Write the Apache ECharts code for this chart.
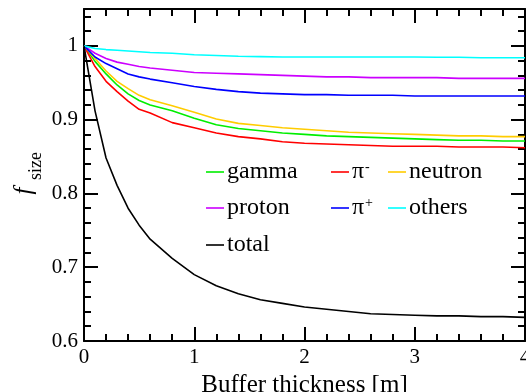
<!DOCTYPE html>
<html>
<head>
<meta charset="utf-8">
<script src="https://cdn.jsdelivr.net/npm/echarts@6/dist/echarts.min.js"></script>
<style>
  html, body { margin: 0; padding: 0; background: #fff; }
  #chart { width: 526px; height: 392px; }
</style>
</head>
<body>
<div id="chart"></div>
<script>
// Buffer thickness samples [m]
const thickness = [0, 0.1, 0.2, 0.3, 0.4, 0.5, 0.6, 0.8, 1.0, 1.2, 1.4, 1.6, 1.8, 2.0, 2.2, 2.4, 2.6, 2.8, 3.0, 3.2, 3.4, 3.6, 3.8, 4.0];

// f_size for each particle type
const gamma   = [1.0, 0.979, 0.962, 0.947, 0.935, 0.926, 0.920, 0.912, 0.902, 0.893, 0.888, 0.885, 0.882, 0.880, 0.878, 0.877, 0.876, 0.875, 0.874, 0.873, 0.872, 0.872, 0.871, 0.871];
const piMinus = [1.0, 0.972, 0.952, 0.938, 0.925, 0.914, 0.909, 0.896, 0.889, 0.882, 0.877, 0.874, 0.870, 0.868, 0.867, 0.866, 0.865, 0.864, 0.864, 0.864, 0.863, 0.863, 0.863, 0.862];
const neutron = [1.0, 0.983, 0.966, 0.952, 0.942, 0.933, 0.927, 0.919, 0.910, 0.901, 0.895, 0.892, 0.889, 0.887, 0.885, 0.883, 0.882, 0.881, 0.880, 0.879, 0.878, 0.878, 0.877, 0.877];
const proton  = [1.0, 0.990, 0.983, 0.978, 0.975, 0.972, 0.970, 0.967, 0.964, 0.963, 0.962, 0.961, 0.960, 0.959, 0.958, 0.958, 0.957, 0.957, 0.957, 0.957, 0.956, 0.956, 0.956, 0.956];
const piPlus  = [1.0, 0.985, 0.976, 0.969, 0.962, 0.958, 0.955, 0.950, 0.945, 0.941, 0.938, 0.936, 0.935, 0.934, 0.934, 0.933, 0.933, 0.933, 0.932, 0.932, 0.932, 0.932, 0.932, 0.932];
const others  = [1.0, 0.9965, 0.995, 0.994, 0.993, 0.992, 0.991, 0.990, 0.988, 0.987, 0.986, 0.9855, 0.985, 0.985, 0.985, 0.985, 0.985, 0.985, 0.985, 0.9845, 0.9845, 0.984, 0.984, 0.984];
const total   = [1.0, 0.912, 0.848, 0.811, 0.780, 0.757, 0.738, 0.712, 0.690, 0.675, 0.664, 0.656, 0.651, 0.646, 0.643, 0.640, 0.637, 0.636, 0.635, 0.634, 0.634, 0.633, 0.633, 0.632];

const xTicks = [0, 1, 2, 3, 4];
const yTicks = [0.6, 0.7, 0.8, 0.9, 1];

const FONT = '"Liberation Serif", "DejaVu Serif", serif';

const seriesDefs = [
  { name: 'gamma',   data: gamma,   color: '#00ee00' },
  { name: 'pim',     data: piMinus, color: '#ff0000' },
  { name: 'neutron', data: neutron, color: '#ffcc00' },
  { name: 'proton',  data: proton,  color: '#cc00ff' },
  { name: 'pip',     data: piPlus,  color: '#0000ff' },
  { name: 'others',  data: others,  color: '#00ffff' },
  { name: 'total',   data: total,   color: '#000000' }
];

const legendText = {
  gamma: 'gamma',
  pim: '{p|π}{s|-}',
  neutron: 'neutron',
  proton: 'proton',
  pip: '{p|π}{s|+}',
  others: 'others',
  total: 'total'
};

// legend layout: one entry per legend box [name, left, centre y]
const legendPos = [
  ['gamma', 206, 174], ['pim', 331, 174], ['neutron', 388, 174],
  ['proton', 206, 210], ['pip', 331, 210], ['others', 388, 210],
  ['total', 206, 247]
];

const chart = echarts.init(document.getElementById('chart'), null, { renderer: 'canvas' });

const tickLabelStyle = { color: '#000', fontFamily: FONT, fontSize: 21 };

const frameAxis = {
  axisLine: { show: true, onZero: false, lineStyle: { color: '#000', width: 2 } },
  axisTick: { show: true, inside: true, length: 14, lineStyle: { color: '#000', width: 2 } },
  minorTick: { show: true, splitNumber: 5, length: 7, lineStyle: { color: '#000', width: 2 } },
  splitLine: { show: false }
};

const option = {
  backgroundColor: '#fff',
  animation: false,
  grid: { left: 84, right: 1, top: 9, bottom: 51, containLabel: false, outerBoundsMode: 'none' },
  xAxis: [
    Object.assign({
      type: 'value', min: 0, max: 4, interval: 1,
      axisLabel: Object.assign({ margin: 6, formatter: v => xTicks.includes(v) ? String(v) : '' }, tickLabelStyle),
      name: 'Buffer thickness [m]', nameLocation: 'middle', nameGap: 29,
      nameTextStyle: { color: '#000', fontFamily: FONT, fontSize: 25 }
    }, frameAxis),
    Object.assign({
      type: 'value', min: 0, max: 4, interval: 1, position: 'top',
      axisLabel: { show: false }
    }, frameAxis)
  ],
  yAxis: [
    Object.assign({
      type: 'value', min: 0.6, max: 1.05, interval: 0.1,
      axisLabel: Object.assign({
        margin: 6,
        formatter: v => {
          const hit = yTicks.find(t => Math.abs(t - v) < 1e-6);
          return hit === undefined ? '' : String(hit);
        }
      }, tickLabelStyle)
    }, frameAxis),
    Object.assign({
      type: 'value', min: 0.6, max: 1.05, interval: 0.1, position: 'right',
      axisLabel: { show: false }
    }, frameAxis)
  ],
  legend: legendPos.map(([name, left, cy]) => ({
    data: [name],
    left: left, top: cy - 14,
    orient: 'horizontal',
    icon: 'rect',
    itemWidth: 18, itemHeight: 1.6, itemGap: 0,
    padding: 0,
    selectedMode: false,
    formatter: n => legendText[n],
    textStyle: {
      color: '#000', fontFamily: FONT, fontSize: 24, padding: [0, 0, 0, -2],
      rich: {
        p: { fontFamily: FONT, fontSize: 24, color: '#000' },
        s: { fontFamily: FONT, fontSize: 14, color: '#000', verticalAlign: 'top', padding: [0, 0, 10, 1] }
      }
    }
  })),
  graphic: [
    {
      type: 'text', x: 24, y: 191, rotation: Math.PI / 2,
      style: { text: 'f', font: 'italic 25px ' + FONT, fill: '#000', textAlign: 'center', textVerticalAlign: 'middle' }
    },
    {
      type: 'text', x: 36, y: 166, rotation: Math.PI / 2,
      style: { text: 'size', font: '18px ' + FONT, fill: '#000', textAlign: 'center', textVerticalAlign: 'middle' }
    }
  ],
  series: seriesDefs.map(s => ({
    name: s.name,
    type: 'line',
    xAxisIndex: 0, yAxisIndex: 0,
    data: thickness.map((x, i) => [x, s.data[i]]),
    showSymbol: false, symbol: 'none',
    lineStyle: { color: s.color, width: 1.6 },
    itemStyle: { color: s.color },
    color: s.color,
    clip: true
  }))
};

chart.setOption(option);
</script>
</body>
</html>
